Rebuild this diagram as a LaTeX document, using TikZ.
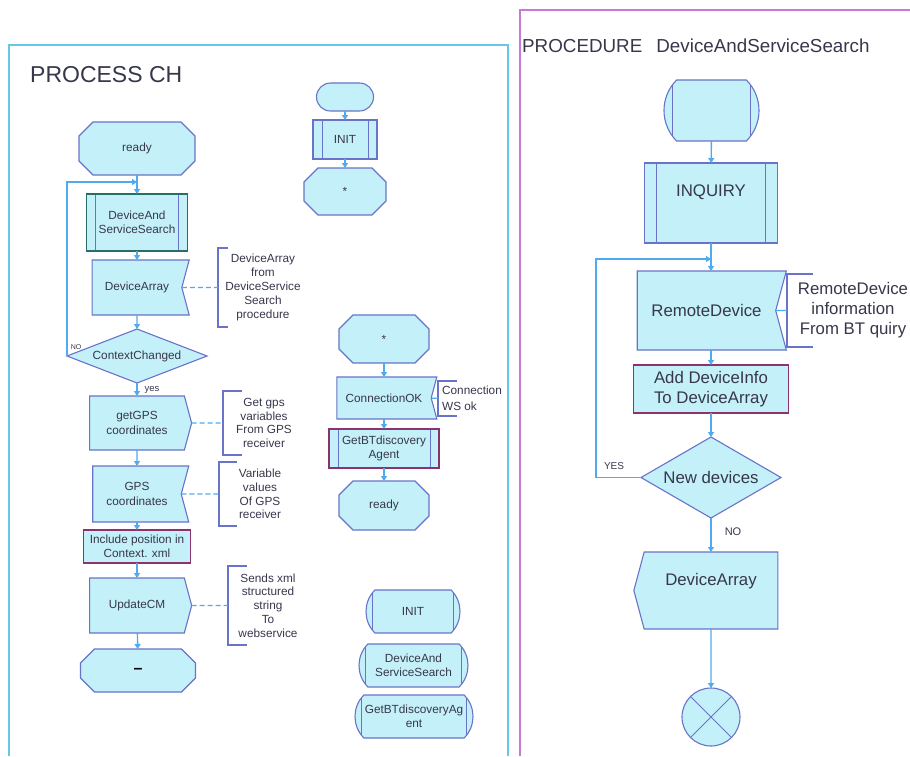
\documentclass[tikz,border=0pt]{standalone}
\usepackage{fontspec}
\setmainfont{Liberation Sans}
\usetikzlibrary{positioning,arrows.meta,shapes.geometric,shapes.misc,shapes.symbols,backgrounds}
\definecolor{boxfill}{RGB}{196,240,250}
\definecolor{boxline}{RGB}{105,115,200}
\definecolor{flowline}{RGB}{80,170,240}
\definecolor{txt}{RGB}{55,55,75}
\definecolor{frameL}{RGB}{100,200,230}
\definecolor{frameR}{RGB}{200,120,220}
\definecolor{lineG}{RGB}{40,110,100}
\definecolor{lineM}{RGB}{140,50,110}
\tikzset{
  base/.style     = {draw=boxline, fill=boxfill, line width=1.1pt, text=txt, inner sep=2pt,
                     outer sep=0pt, align=center, font=\fontsize{11.8}{14.5}\selectfont},
  bigfont/.style  = {font=\fontsize{16.8}{20}\selectfont},
  statebox/.style = {rectangle, text=txt, inner sep=2pt, outer sep=0pt, align=center,
                     font=\fontsize{11.8}{14.5}\selectfont},
  octagon/.style  = {draw=boxline, fill=boxfill, line width=1.1pt},
  startbox/.style = {base, rounded rectangle},
  callbox/.style  = {base, rectangle, path picture={
                       \draw[boxline, line width=1pt]
                         ([xshift=#1]path picture bounding box.north west) -- ([xshift=#1]path picture bounding box.south west)
                         ([xshift=-#1]path picture bounding box.north east) -- ([xshift=-#1]path picture bounding box.south east);}},
  callbox/.default = 9pt,
  refbox/.style   = {base, rounded rectangle, rounded rectangle arc length=90, path picture={
                       \draw[boxline, line width=1pt]
                         ([xshift=#1]path picture bounding box.north west) -- ([xshift=#1]path picture bounding box.south west)
                         ([xshift=-#1]path picture bounding box.north east) -- ([xshift=-#1]path picture bounding box.south east);}},
  refbox/.default = 9pt,
  inbox/.style    = {base, signal, signal from=east, signal to=nowhere, signal pointer angle=150},
  outbox/.style   = {base, signal, signal to=east, signal pointer angle=150},
  taskbox/.style  = {base, rectangle},
  decision/.style = {base, diamond, inner sep=1pt},
  retbox/.style   = {base, circle, path picture={
                       \draw[boxline, line width=1pt]
                         (path picture bounding box.north west) -- (path picture bounding box.south east)
                         (path picture bounding box.north east) -- (path picture bounding box.south west);}},
  note/.style     = {rectangle, inner sep=0pt, outer sep=0pt, align=center, text=txt,
                     font=\fontsize{11.8}{13.8}\selectfont},
  bracket/.style  = {draw=boxline, line width=1.1pt},
  flow/.style     = {draw=flowline, line width=1.4pt, -{Triangle[length=5pt,width=6pt]}},
  link/.style     = {draw=flowline, line width=1.2pt, dash pattern=on 5pt off 3pt},
  lab/.style      = {text=txt, inner sep=0pt},
  title/.style    = {text=txt, inner sep=0pt, anchor=base west},
}
\begin{document}
\begin{tikzpicture}[x=1pt, y=-1pt]
  \clip (0,0) rectangle (910,756);

  % frames and headings
  \draw[frameL, line width=1.2pt] (9,756) -- (9,45) -- (508,45) -- (508,756);
  \draw[frameR, line width=1.2pt] (520,756) -- (520,10) -- (910,10);
  \node[title, font=\fontsize{23}{23}\selectfont] (ttlL) at (30,82) {PROCESS CH};
  \node[title, font=\fontsize{18.8}{19}\selectfont] (ttlR) at (522,52)
    {PROCEDURE\hspace{0.75em}DeviceAndServiceSearch};

  % process: main column
  \node[statebox, minimum width=116pt, minimum height=53pt] (ready) at (137,148.5) {ready};
  \coordinate (j1) at (137,182);
  \node[callbox, draw=lineG, minimum width=101pt, minimum height=57pt] (dass) at (137,222.5) {DeviceAnd\\ServiceSearch};
  \node[inbox, minimum width=97pt, minimum height=55pt] (arrin) at (137,287.5) {DeviceArray};
  \node[decision, aspect=2.6, minimum width=140pt, minimum height=54pt] (ctx) at (137,356) {ContextChanged};
  \node[outbox, minimum width=102pt, minimum height=54pt] (getgps) at (137,423) {getGPS\\coordinates};
  \node[inbox, minimum width=96pt, minimum height=56pt] (gpsc) at (137,494) {GPS\\coordinates};
  \node[taskbox, draw=lineM, minimum width=107pt, minimum height=33pt] (incl) at (137,546.5) {Include position in\\Context. xml};
  \node[outbox, minimum width=102pt, minimum height=55pt] (upd) at (137,605.5) {UpdateCM};
  \node[statebox, minimum width=115pt, minimum height=43pt, text=black,
        font=\fontsize{16}{16}\selectfont\bfseries] (stopL) at (138,670.5) {--};

  \draw[flow] (ready) -- (dass);
  \draw[flow] (ctx.west) |- (j1);
  \draw[flow] (dass) -- (arrin);
  \draw[flow] (arrin) -- (ctx);
  \draw[flow] (ctx) -- (getgps);
  \draw[flow] (getgps) -- (gpsc);
  \draw[flow] (gpsc) -- (incl);
  \draw[flow] (incl) -- (upd);
  \draw[flow] (upd) -- (stopL);
  \node[lab, font=\fontsize{7}{7}\selectfont] (noL) at (76,347) {NO};
  \node[lab, font=\fontsize{9.5}{10}\selectfont] (yesL) at (152,390) {yes};

  % comments
  \node[note, minimum width=90pt, minimum height=79pt, anchor=west] (nArr) at (218,287.5)
    {DeviceArray\\from\\DeviceService\\Search\\procedure};
  \draw[bracket] ([xshift=10pt]nArr.north west) -- (nArr.north west) -- (nArr.south west) -- ([xshift=10pt]nArr.south west);
  \draw[link] (arrin) -- (nArr);
  \node[note, minimum width=82pt, minimum height=64pt, anchor=west] (nGet) at (223,423)
    {Get gps\\variables\\From GPS\\receiver};
  \draw[bracket] ([xshift=19pt]nGet.north west) -- (nGet.north west) -- (nGet.south west) -- ([xshift=19pt]nGet.south west);
  \draw[link] (getgps) -- (nGet);
  \node[note, minimum width=82pt, minimum height=64pt, anchor=west] (nVal) at (219,494)
    {Variable\\values\\Of GPS\\receiver};
  \draw[bracket] ([xshift=18pt]nVal.north west) -- (nVal.north west) -- (nVal.south west) -- ([xshift=18pt]nVal.south west);
  \draw[link] (gpsc) -- (nVal);
  \node[note, minimum width=80pt, minimum height=79pt, anchor=west] (nSend) at (228,605.5)
    {Sends xml\\structured\\string\\To\\webservice};
  \draw[bracket] ([xshift=19pt]nSend.north west) -- (nSend.north west) -- (nSend.south west) -- ([xshift=19pt]nSend.south west);
  \draw[link] (upd) -- (nSend);

  % start transition
  \node[startbox, minimum width=61pt, minimum height=28pt] (startM) at (345,97) {};
  \node[callbox, minimum width=64pt, minimum height=39pt] (initc) at (345,139.5) {INIT};
  \node[statebox, minimum width=82pt, minimum height=47pt] (starM) at (345,191.5) {*};
  \draw[flow] (startM) -- (initc);
  \draw[flow] (initc) -- (starM);

  % connection transition
  \node[statebox, minimum width=90pt, minimum height=48pt] (star2) at (384,339) {*};
  \node[inbox, minimum width=100pt, minimum height=42pt] (connok) at (384,398) {ConnectionOK};
  \node[callbox, draw=lineM, minimum width=110pt, minimum height=39pt] (getbt) at (384,448.5) {GetBTdiscovery\\Agent};
  \node[statebox, minimum width=90pt, minimum height=49pt] (ready2) at (384,505.5) {ready};
  \node[note, align=left, minimum width=68pt, minimum height=35pt, anchor=west,
        font=\fontsize{11.8}{16}\selectfont] (nCon) at (438,398.5) {Connection\\WS ok};
  \draw[bracket] ([xshift=19pt]nCon.north west) -- (nCon.north west) -- (nCon.south west) -- ([xshift=19pt]nCon.south west);
  \draw[flowline, line width=1.2pt] (connok) -- (nCon);
  \draw[flow] (star2) -- (connok);
  \draw[flow] (connok) -- (getbt);
  \draw[flow] (getbt) -- (ready2);

  % state symbols (octagons) behind their texts
  \begin{pgfonlayer}{background}
    \foreach \n in {ready,stopL,starM,star2,ready2}
      \draw[octagon] ([xshift=14pt]\n.north west) -- ([xshift=-14pt]\n.north east)
        -- ([yshift=-14pt]\n.north east) -- ([yshift=14pt]\n.south east)
        -- ([xshift=-14pt]\n.south east) -- ([xshift=14pt]\n.south west)
        -- ([yshift=14pt]\n.south west) -- ([yshift=-14pt]\n.north west) -- cycle;
  \end{pgfonlayer}

  % procedure references
  \node[refbox, minimum width=98pt, minimum height=43pt] (lgInit) at (413,611.5) {INIT};
  \node[refbox, minimum width=113pt, minimum height=43pt] (lgDass) at (413.5,665.5) {DeviceAnd\\ServiceSearch};
  \node[refbox, minimum width=122pt, minimum height=43pt] (lgGetbt) at (414,716.5) {GetBTdiscoveryAg\\ent};

  % procedure DeviceAndServiceSearch
  \node[refbox=12.6pt, minimum width=99pt, minimum height=61pt] (startR) at (711.5,110.5) {};
  \node[callbox=12pt, bigfont, text depth=25pt, minimum width=133pt, minimum height=80pt] (inq) at (711,203) {INQUIRY};
  \coordinate (j2) at (711,259);
  \node[inbox, bigfont, minimum width=149pt, minimum height=79pt] (remdev) at (706.5,310.5) {RemoteDevice};
  \node[taskbox, bigfont, draw=lineM, minimum width=155pt, minimum height=48pt] (add) at (711,389) {Add DeviceInfo\\To DeviceArray};
  \node[decision, bigfont, aspect=1.73, minimum width=140pt, minimum height=81pt] (newdev) at (711,477.5) {New devices};
  \node[base, signal, signal to=west, signal pointer angle=150, bigfont, text depth=23pt,
        minimum width=144pt, minimum height=77pt] (arrout) at (711,590.5) {DeviceArray};
  \node[retbox, minimum size=58pt] (ret) at (711,717) {};
  \node[note, bigfont, minimum width=132pt, minimum height=73pt, anchor=west] (nRem) at (787,310.5)
    {RemoteDevice\\information\\From BT quiry};
  \draw[bracket] ([xshift=26pt]nRem.north west) -- (nRem.north west) -- (nRem.south west) -- ([xshift=26pt]nRem.south west);
  \draw[flowline, line width=1.2pt] (remdev) -- (nRem);

  \draw[flow] (startR) -- (inq);
  \draw[flow] (inq) -- (inq |- remdev.north);
  \draw[flow] (remdev.south -| add) -- (add);
  \draw[flow] (add) -- (newdev);
  \draw[flow] (newdev.west) -- ++(-45,0) |- (j2);
  \draw[flow] (newdev) -- (arrout);
  \draw[flow] (arrout) -- (ret);
  \node[lab, font=\fontsize{10}{10}\selectfont] (yesR) at (614,466) {YES};
  \node[lab, font=\fontsize{11}{11}\selectfont] (noR) at (733,532) {NO};

\end{tikzpicture}
\end{document}
